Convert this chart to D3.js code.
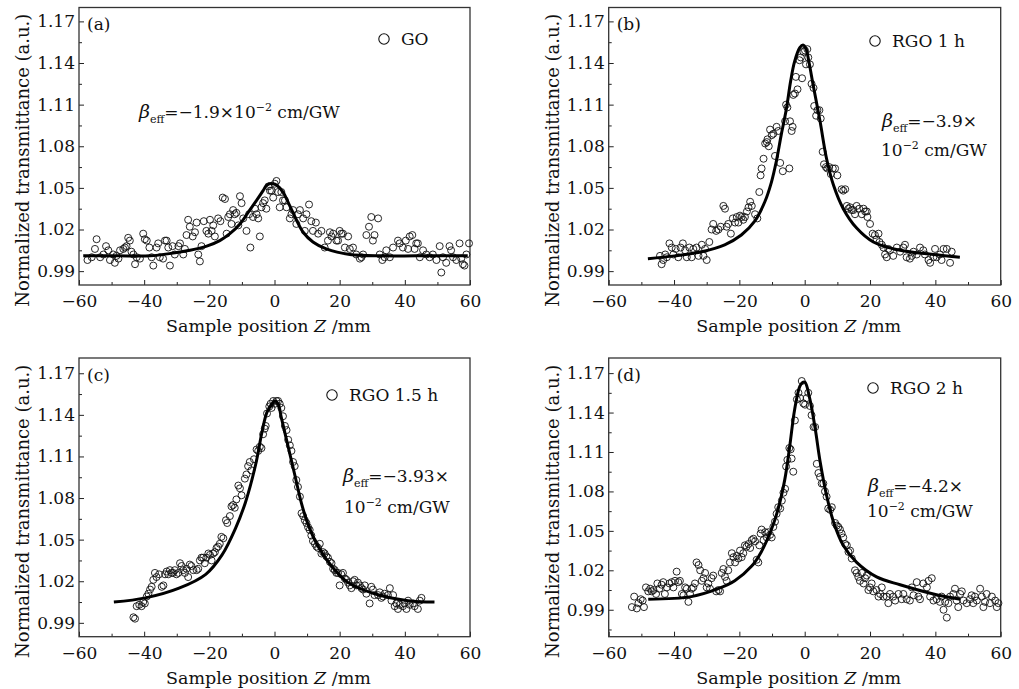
<!DOCTYPE html>
<html>
<head>
<meta charset="utf-8">
<script src="https://cdn.jsdelivr.net/npm/d3@7"></script>
<style>
  body { margin: 0; background: #fff; }
  text { font-family: "DejaVu Serif", serif; fill: #111; }
</style>
</head>
<body>
<svg id="chart" width="1019" height="689"></svg>
<script>
// tick values shared by all four panels
var xTicks = [-60, -40, -20, 0, 20, 40, 60];
var yTicks = [0.99, 1.02, 1.05, 1.08, 1.11, 1.14, 1.17];

var panelTags = ["(a)", "(b)", "(c)", "(d)"];
var sampleNames = ["GO", "RGO 1 h", "RGO 1.5 h", "RGO 2 h"];
var betaValues = ["−1.9", "−3.9", "−3.93", "−4.2"];

// measured points [Z (mm), normalized transmittance]
var goPoints = [
  [-57.4,0.998],[-56.1,1.000],[-55.1,1.006],[-54.6,1.013],[-53.5,1.000],[-52.5,1.002],[-51.7,1.008],[-51.0,1.005],
  [-50.5,0.998],[-49.5,1.002],[-49.0,0.996],[-48.5,1.001],[-47.9,0.999],[-47.4,1.005],[-46.4,1.006],[-45.9,1.007],
  [-45.4,1.008],[-44.9,1.014],[-44.4,1.012],[-43.9,1.004],[-43.3,1.002],[-42.8,0.995],[-42.3,1.000],[-41.3,0.999],
  [-40.3,1.017],[-39.8,1.013],[-39.2,1.012],[-38.4,1.007],[-37.7,1.000],[-37.2,0.994],[-36.2,1.007],[-35.7,1.010],
  [-35.2,1.000],[-34.2,0.999],[-33.6,1.012],[-33.1,1.012],[-32.6,1.007],[-32.1,0.994],[-31.3,1.008],[-30.6,1.002],
  [-29.5,1.008],[-29.0,1.010],[-28.0,1.002],[-27.5,1.006],[-27.0,1.016],[-26.5,1.027],[-26.0,1.022],[-25.1,1.015],
  [-24.4,1.018],[-23.9,1.025],[-23.4,1.002],[-22.9,0.997],[-22.4,1.008],[-21.7,1.026],[-20.9,1.019],[-20.3,1.017],
  [-19.8,1.027],[-19.3,1.019],[-18.8,1.023],[-18.3,1.015],[-17.3,1.028],[-16.6,1.026],[-15.9,1.043],[-15.2,1.042],
  [-14.7,1.017],[-14.2,1.029],[-13.7,1.031],[-13.2,1.024],[-12.7,1.034],[-12.2,1.031],[-11.7,1.032],[-11.1,1.023],
  [-10.6,1.044],[-10.1,1.039],[-9.6,1.028],[-8.6,1.019],[-7.8,1.031],[-7.4,1.007],[-6.6,1.029],[-6.0,1.035],
  [-5.5,1.031],[-5.0,1.028],[-4.5,1.015],[-4.0,1.036],[-3.5,1.039],[-3.0,1.041],[-2.5,1.035],[-1.9,1.051],
  [-1.4,1.048],[-0.9,1.048],[-0.4,1.043],[0.1,1.053],[0.6,1.055],[1.1,1.047],[1.6,1.036],[2.1,1.047],
  [2.6,1.041],[3.2,1.041],[3.7,1.036],[4.7,1.028],[5.2,1.031],[5.7,1.034],[6.7,1.024],[7.2,1.031],
  [7.8,1.034],[8.8,1.028],[9.3,1.019],[9.8,1.031],[10.6,1.038],[11.3,1.026],[11.8,1.019],[12.7,1.025],
  [13.4,1.017],[14.4,1.019],[15.4,1.007],[16.4,1.012],[17.0,1.018],[17.5,1.015],[18.0,1.017],[19.0,1.012],
  [19.5,1.012],[20.0,1.019],[20.5,1.017],[21.0,1.017],[21.6,1.007],[22.6,1.015],[23.1,1.006],[24.1,1.007],
  [25.1,1.002],[26.2,0.999],[26.7,1.000],[27.2,1.002],[28.2,1.016],[29.0,1.022],[29.7,1.029],[30.2,1.012],
  [30.7,1.016],[31.8,1.028],[32.3,1.002],[33.1,0.998],[33.8,1.000],[34.3,1.005],[35.4,1.000],[36.4,1.007],
  [37.9,1.012],[38.4,1.010],[39.4,1.007],[40.3,1.012],[41.0,1.006],[41.5,1.015],[42.3,1.016],[43.0,1.006],
  [43.5,1.010],[44.0,1.010],[44.6,1.000],[45.6,1.005],[46.6,1.002],[47.6,1.000],[48.6,1.002],[49.7,0.998],
  [50.7,1.008],[51.2,0.989],[51.7,1.000],[52.7,0.996],[53.7,1.008],[54.2,1.005],[54.8,1.000],[55.8,0.998],
  [56.8,1.010],[57.3,0.999],[57.8,0.995],[58.3,0.994],[58.9,1.002],[59.7,1.010]
];

var rgo1Points = [
  [-44.3,1.001],[-43.8,0.995],[-43.3,0.998],[-42.7,1.002],[-42.2,1.000],[-41.4,1.010],[-40.7,1.007],[-40.2,1.002],
  [-39.5,1.006],[-38.7,1.000],[-38.0,1.007],[-37.3,1.010],[-36.6,1.005],[-36.1,1.000],[-35.3,1.007],[-34.6,1.000],
  [-34.1,1.006],[-33.1,1.007],[-32.5,1.001],[-31.5,1.009],[-31.0,1.001],[-30.5,1.006],[-30.0,0.998],[-29.2,1.011],
  [-28.5,1.020],[-28.0,1.024],[-27.1,1.019],[-26.4,1.020],[-25.7,1.022],[-24.9,1.037],[-24.4,1.035],[-23.9,1.022],
  [-23.4,1.024],[-22.6,1.017],[-22.0,1.028],[-21.3,1.025],[-20.8,1.029],[-20.3,1.025],[-19.8,1.030],[-19.3,1.029],
  [-18.8,1.027],[-18.3,1.029],[-17.7,1.033],[-17.2,1.036],[-16.7,1.040],[-16.2,1.037],[-15.2,1.031],[-14.5,1.028],
  [-13.9,1.047],[-13.5,1.059],[-13.2,1.064],[-12.6,1.071],[-12.1,1.082],[-11.6,1.083],[-11.4,1.085],[-11.0,1.080],
  [-10.6,1.092],[-10.1,1.088],[-9.6,1.089],[-9.1,1.073],[-8.6,1.094],[-8.1,1.091],[-7.5,1.068],[-6.7,1.062],
  [-6.0,1.098],[-5.7,1.110],[-5.3,1.108],[-4.7,1.064],[-4.5,1.098],[-4.0,1.091],[-3.7,1.094],[-3.5,1.117],
  [-3.0,1.118],[-2.7,1.130],[-2.2,1.121],[-1.6,1.142],[-1.2,1.144],[-0.8,1.129],[-0.4,1.148],[0.1,1.149],
  [0.4,1.139],[0.8,1.150],[1.1,1.144],[1.6,1.139],[2.1,1.125],[2.7,1.122],[2.9,1.109],[3.5,1.102],
  [3.9,1.106],[4.5,1.106],[4.9,1.100],[5.5,1.076],[5.9,1.067],[6.5,1.065],[6.9,1.064],[7.5,1.065],
  [8.0,1.060],[8.6,1.064],[9.3,1.064],[10.0,1.059],[11.3,1.049],[11.8,1.048],[12.4,1.049],[12.9,1.037],
  [13.4,1.035],[13.9,1.036],[14.4,1.034],[14.9,1.034],[15.4,1.031],[15.9,1.037],[16.7,1.035],[17.5,1.031],
  [18.0,1.035],[18.5,1.033],[19.0,1.033],[19.2,1.029],[20.0,1.024],[20.8,1.017],[21.5,1.016],[22.0,1.013],
  [22.6,1.017],[22.9,1.011],[23.6,1.009],[24.1,1.007],[24.6,1.002],[25.1,1.000],[25.6,1.006],[26.1,1.005],
  [27.1,1.001],[28.2,1.007],[29.2,1.004],[30.2,1.007],[30.7,1.009],[31.2,1.000],[32.2,0.999],[32.8,1.001],
  [33.3,1.004],[34.3,1.002],[35.3,1.007],[36.3,1.005],[36.8,1.002],[37.9,0.998],[38.4,0.996],[39.4,1.000],
  [39.9,1.006],[40.4,1.000],[41.4,1.002],[41.9,0.998],[42.5,1.006],[43.5,1.006],[44.5,0.996],[45.0,1.004]
];

var rgo15Points = [
  [-43.3,0.994],[-42.8,0.993],[-42.3,1.002],[-41.5,1.003],[-40.8,1.002],[-40.3,1.005],[-39.8,1.004],[-39.2,1.009],
  [-38.7,1.011],[-38.2,1.014],[-37.7,1.016],[-37.2,1.021],[-36.7,1.026],[-36.2,1.023],[-35.4,1.025],[-34.6,1.016],
  [-34.1,1.017],[-33.6,1.025],[-33.1,1.027],[-32.6,1.025],[-32.1,1.028],[-31.6,1.026],[-31.1,1.026],[-30.6,1.028],
  [-30.1,1.025],[-29.5,1.026],[-29.0,1.033],[-28.5,1.031],[-28.0,1.028],[-27.5,1.026],[-27.0,1.029],[-26.5,1.023],
  [-26.0,1.032],[-25.5,1.031],[-24.9,1.028],[-23.9,1.028],[-23.4,1.029],[-22.9,1.035],[-22.4,1.037],[-21.9,1.037],
  [-21.4,1.033],[-20.9,1.037],[-20.3,1.040],[-19.8,1.039],[-19.3,1.035],[-18.8,1.040],[-18.3,1.041],[-17.8,1.044],
  [-17.3,1.045],[-16.8,1.047],[-16.3,1.052],[-15.7,1.051],[-14.9,1.064],[-14.5,1.062],[-13.7,1.067],[-13.2,1.074],
  [-12.7,1.075],[-12.2,1.073],[-11.7,1.079],[-11.1,1.089],[-10.6,1.087],[-10.1,1.082],[-9.1,1.094],[-8.6,1.097],
  [-8.1,1.103],[-7.6,1.106],[-7.1,1.100],[-6.3,1.108],[-5.5,1.115],[-5.0,1.114],[-4.5,1.117],[-4.0,1.116],
  [-3.5,1.126],[-3.0,1.130],[-2.7,1.132],[-2.3,1.141],[-1.6,1.146],[-1.2,1.148],[-0.9,1.145],[-0.4,1.150],
  [0.1,1.148],[0.6,1.150],[1.1,1.150],[1.6,1.148],[2.1,1.145],[2.6,1.139],[3.2,1.132],[3.7,1.129],
  [4.2,1.122],[4.7,1.118],[5.2,1.114],[5.7,1.106],[6.2,1.103],[6.7,1.093],[7.2,1.088],[7.8,1.081],
  [8.3,1.069],[8.8,1.067],[9.3,1.064],[9.8,1.062],[10.3,1.059],[10.8,1.057],[11.3,1.053],[11.8,1.049],
  [12.4,1.047],[12.9,1.045],[13.4,1.044],[13.9,1.047],[14.4,1.040],[14.9,1.041],[15.4,1.040],[15.9,1.038],
  [16.4,1.037],[17.0,1.034],[17.5,1.033],[18.0,1.029],[18.5,1.028],[19.0,1.026],[19.5,1.026],[20.0,1.017],
  [20.5,1.025],[21.0,1.026],[21.6,1.022],[22.1,1.021],[22.6,1.019],[23.1,1.017],[23.6,1.015],[24.1,1.020],
  [24.6,1.021],[25.1,1.017],[25.6,1.019],[26.2,1.017],[26.7,1.015],[27.2,1.014],[27.7,1.017],[28.2,1.011],
  [29.2,1.004],[29.7,1.016],[30.2,1.014],[30.7,1.010],[31.8,1.010],[32.3,1.012],[32.8,1.008],[33.3,1.009],
  [33.8,1.011],[34.8,1.010],[35.4,1.015],[35.9,1.006],[36.4,1.010],[36.9,1.002],[37.4,1.004],[37.9,1.000],
  [38.4,1.003],[39.4,1.002],[39.9,1.004],[40.5,1.000],[41.0,1.006],[41.5,1.003],[42.5,1.004],[43.0,1.002],
  [44.0,1.000],[44.6,1.006],[45.1,1.008]
];

var rgo2Points = [
  [-52.9,0.992],[-52.2,1.000],[-51.4,0.991],[-50.9,0.995],[-50.2,0.998],[-49.6,0.997],[-49.2,0.992],[-48.6,1.007],
  [-47.9,1.004],[-47.3,1.006],[-46.8,1.004],[-46.3,1.005],[-45.5,1.002],[-45.1,1.010],[-44.5,1.006],[-43.8,1.009],
  [-43.3,1.011],[-42.8,1.002],[-42.2,1.007],[-41.4,1.010],[-40.7,1.011],[-40.2,1.007],[-39.7,1.012],[-39.2,1.019],
  [-38.7,1.011],[-38.2,1.012],[-37.6,1.002],[-37.1,1.001],[-36.6,1.007],[-36.1,1.006],[-35.6,0.996],[-35.1,1.002],
  [-34.6,1.006],[-34.1,1.007],[-33.6,1.010],[-33.1,1.026],[-32.5,1.024],[-32.0,1.020],[-31.5,1.012],[-31.0,1.014],
  [-30.5,1.018],[-30.0,1.007],[-29.5,1.010],[-29.0,1.006],[-28.5,1.014],[-28.0,1.016],[-27.1,1.004],[-26.4,1.005],
  [-25.9,1.004],[-25.4,1.018],[-24.9,1.021],[-24.4,1.015],[-23.9,1.012],[-23.4,1.020],[-22.9,1.026],[-22.3,1.033],
  [-21.8,1.030],[-21.3,1.026],[-20.8,1.031],[-20.3,1.029],[-19.8,1.035],[-19.3,1.030],[-18.8,1.033],[-18.3,1.039],
  [-17.8,1.038],[-17.2,1.040],[-16.7,1.037],[-16.2,1.043],[-15.7,1.044],[-15.2,1.042],[-14.7,1.028],[-14.2,1.026],
  [-13.9,1.039],[-13.5,1.048],[-13.2,1.051],[-12.6,1.043],[-12.1,1.049],[-11.6,1.045],[-11.1,1.049],[-10.6,1.047],
  [-10.1,1.045],[-9.6,1.053],[-9.1,1.057],[-8.6,1.063],[-8.1,1.068],[-7.5,1.067],[-7.0,1.073],[-6.5,1.079],
  [-6.0,1.082],[-5.7,1.099],[-5.3,1.104],[-4.7,1.113],[-4.3,1.112],[-4.0,1.105],[-3.5,1.095],[-3.0,1.134],
  [-2.4,1.150],[-1.9,1.155],[-1.4,1.151],[-0.9,1.164],[-0.4,1.147],[0.1,1.146],[0.6,1.151],[1.1,1.155],
  [1.6,1.145],[2.1,1.138],[2.7,1.129],[3.2,1.129],[3.7,1.101],[4.2,1.094],[4.7,1.091],[5.2,1.086],
  [5.7,1.086],[6.2,1.080],[6.7,1.076],[7.2,1.067],[7.8,1.066],[8.3,1.068],[9.3,1.056],[9.8,1.054],
  [10.3,1.053],[10.8,1.051],[11.3,1.048],[11.8,1.045],[12.4,1.040],[12.9,1.039],[13.4,1.034],[13.9,1.035],
  [14.4,1.029],[15.4,1.020],[15.9,1.018],[16.4,1.015],[16.9,1.012],[17.5,1.018],[18.0,1.010],[18.5,1.014],
  [19.0,1.016],[19.5,1.005],[20.0,1.007],[20.5,1.010],[21.0,1.004],[22.0,1.005],[22.6,1.000],[23.1,1.002],
  [23.6,1.007],[24.1,1.000],[25.1,1.000],[25.6,0.995],[26.1,1.002],[27.1,1.000],[27.7,0.997],[28.7,1.002],
  [29.7,0.998],[30.2,1.002],[31.2,0.998],[32.2,0.997],[32.8,1.007],[33.3,1.001],[34.3,1.011],[34.8,1.000],
  [35.3,0.998],[36.3,1.010],[37.4,1.007],[37.9,1.012],[38.4,1.000],[38.9,1.014],[39.4,0.997],[40.4,0.998],
  [41.4,0.996],[41.9,1.000],[42.5,0.990],[43.0,0.996],[43.5,0.984],[44.0,0.995],[44.5,1.000],[45.5,1.002],
  [46.0,1.006],[46.5,0.997],[47.0,0.992],[47.6,1.002],[48.1,1.004],[48.6,0.997],[49.6,0.995],[50.6,0.998],
  [51.1,1.001],[51.6,0.995],[52.1,1.000],[52.7,0.997],[53.7,1.006],[54.2,1.000],[54.7,0.992],[55.2,0.996],
  [55.7,1.002],[56.7,0.995],[57.3,1.000],[58.3,0.997],[58.8,0.992],[59.3,0.995]
];

// fitted curves
var goFit = [
  [-58.7,1.001],[-48.4,1.001],[-38.2,1.001],[-31.1,1.003],[-25.9,1.005],[-20.8,1.008],[-16.8,1.012],
  [-13.7,1.017],[-10.6,1.024],[-7.6,1.034],[-5.5,1.041],[-3.5,1.048],[-2.7,1.051],[-1.6,1.053],[-0.4,1.053],
  [0.6,1.052],[2.6,1.047],[4.7,1.037],[6.7,1.027],[8.8,1.018],[11.8,1.011],[15.9,1.006],[23.1,1.002],
  [33.3,1.001],[43.5,1.001],[59.3,1.001]
];
var rgo1Fit = [
  [-48.0,0.999],[-39.8,1.001],[-31.6,1.004],[-24.5,1.009],[-19.4,1.016],[-15.3,1.026],[-12.2,1.040],
  [-10.2,1.054],[-8.7,1.069],[-7.2,1.088],[-5.6,1.107],[-4.3,1.127],[-3.1,1.141],[-1.5,1.151],[-0.5,1.153],
  [0.3,1.151],[1.2,1.142],[2.6,1.124],[4.7,1.098],[6.7,1.071],[8.8,1.052],[11.8,1.035],[15.9,1.021],
  [21.0,1.011],[29.2,1.005],[39.4,1.002],[47.5,1.000]
];
var rgo15Fit = [
  [-49.3,1.005],[-39.6,1.008],[-29.3,1.015],[-21.1,1.025],[-16.1,1.039],[-12.0,1.058],[-8.9,1.077],
  [-5.8,1.104],[-3.8,1.128],[-2.3,1.142],[-0.7,1.148],[0.1,1.150],[1.1,1.148],[2.1,1.138],[4.2,1.117],
  [6.2,1.097],[8.3,1.076],[10.3,1.061],[13.4,1.045],[17.5,1.031],[22.6,1.019],[30.7,1.011],[41.0,1.006],
  [49.1,1.005]
];
var rgo2Fit = [
  [-47.9,0.998],[-34.7,1.000],[-26.5,1.006],[-21.4,1.012],[-16.3,1.023],[-13.3,1.034],[-10.2,1.051],
  [-8.2,1.066],[-6.1,1.089],[-4.6,1.114],[-3.1,1.142],[-1.5,1.160],[-0.6,1.163],[0.1,1.163],[1.6,1.150],
  [3.2,1.128],[4.7,1.103],[6.7,1.077],[8.8,1.057],[11.8,1.039],[15.9,1.026],[22.0,1.015],[29.2,1.009],
  [39.4,1.002],[47.6,0.998]
];

var svg = d3.select("#chart");

// frame, y range and text placement per panel
var panels = [
  { pts: goPoints, fit: goFit, l: 79, r: 470, t: 7.5, b: 285, yDom: [0.98, 1.18],
    legend: [384, 39], beta: [[139, 118]], oneLine: true },
  { pts: rgo1Points, fit: rgo1Fit, l: 608.7, r: 1000.7, t: 7.5, b: 285, yDom: [0.98, 1.18],
    legend: [875, 41], beta: [[882, 127], [881, 156]], oneLine: false },
  { pts: rgo15Points, fit: rgo15Fit, l: 79, r: 470, t: 358, b: 636.7, yDom: [0.98, 1.181],
    legend: [332, 395], beta: [[343, 482], [344, 513]], oneLine: false },
  { pts: rgo2Points, fit: rgo2Fit, l: 608.7, r: 1000.7, t: 358, b: 636.7, yDom: [0.9695, 1.1815],
    legend: [873, 388], beta: [[868, 492], [867, 517]], oneLine: false }
];

var minus = d => d < 0 ? "−" + Math.abs(d) : String(d);

panels.forEach((p, i) => {
  var x = d3.scaleLinear().domain([-60, 60]).range([p.l, p.r]);
  var y = d3.scaleLinear().domain(p.yDom).range([p.b, p.t]);
  var g = svg.append("g");

  // minor ticks halfway between the labelled ones
  var xMinor = xTicks.slice(1).map(v => v - 10);
  var yMinor = yTicks.map(v => v + 0.015).concat([yTicks[0] - 0.015])
    .filter(v => v > p.yDom[0] && v < p.yDom[1]);

  var xAxis = g.append("g").attr("transform", `translate(0,${p.b})`)
    .call(d3.axisBottom(x).tickValues(xTicks).tickSize(-5).tickPadding(6).tickFormat(minus));
  g.append("g").attr("transform", `translate(0,${p.b})`)
    .call(d3.axisBottom(x).tickValues(xMinor).tickSize(-3).tickFormat(""));
  g.append("g").attr("transform", `translate(${p.l},0)`)
    .call(d3.axisLeft(y).tickValues(yTicks).tickSize(-5).tickPadding(4).tickFormat(d => d.toFixed(2)));
  g.append("g").attr("transform", `translate(${p.l},0)`)
    .call(d3.axisLeft(y).tickValues(yMinor).tickSize(-3).tickFormat(""));

  g.selectAll(".domain").remove();
  g.selectAll(".tick line").attr("stroke", "#222").attr("stroke-width", 1);
  g.selectAll(".tick text")
    .attr("font-family", "DejaVu Serif, serif")
    .attr("font-size", 17)
    .attr("fill", "#111");
  xAxis.selectAll(".tick text").attr("dy", "0.95em");

  g.append("rect")
    .attr("x", p.l).attr("y", p.t)
    .attr("width", p.r - p.l).attr("height", p.b - p.t)
    .attr("fill", "none").attr("stroke", "#333").attr("stroke-width", 1.3);

  // data circles
  g.append("g").selectAll("circle")
    .data(p.pts)
    .enter()
    .append("circle")
    .attr("cx", d => x(d[0]))
    .attr("cy", d => y(d[1]))
    .attr("r", 3.5)
    .attr("fill", "none")
    .attr("stroke", "#111")
    .attr("stroke-width", 0.9);

  var line = d3.line()
    .x(d => x(d[0]))
    .y(d => y(d[1]))
    .curve(d3.curveCatmullRom.alpha(0.5));

  g.append("path")
    .datum(p.fit)
    .attr("d", line)
    .attr("fill", "none")
    .attr("stroke", "#000")
    .attr("stroke-width", 3);

  // panel tag
  g.append("text")
    .attr("x", p.l + 8).attr("y", p.t + 22.5)
    .attr("font-size", 17)
    .text(panelTags[i]);

  // legend
  g.append("circle")
    .attr("cx", p.legend[0]).attr("cy", p.legend[1])
    .attr("r", 5.2)
    .attr("fill", "none").attr("stroke", "#111").attr("stroke-width", 1.1);
  g.append("text")
    .attr("x", p.legend[0] + 17).attr("y", p.legend[1] + 6)
    .attr("font-size", 17)
    .text(sampleNames[i]);

  // beta annotation
  var t1 = g.append("text")
    .attr("x", p.beta[0][0]).attr("y", p.beta[0][1])
    .attr("font-size", 17);
  t1.append("tspan").attr("font-style", "italic").attr("font-size", 19).text("β");
  t1.append("tspan").attr("font-size", 11).attr("dy", 5).text("eff");
  t1.append("tspan").attr("dy", -5).text("=" + betaValues[i] + "×");
  var t2 = t1;
  if (!p.oneLine) {
    t2 = g.append("text")
      .attr("x", p.beta[1][0]).attr("y", p.beta[1][1])
      .attr("font-size", 17);
  }
  t2.append("tspan").text("10");
  t2.append("tspan").attr("font-size", 11).attr("dy", -7).text("−2");
  t2.append("tspan").attr("dy", 7).text(" cm/GW");

  // axis titles
  var xt = g.append("text")
    .attr("x", (p.l + p.r) / 2 - 6).attr("y", p.b + 47)
    .attr("text-anchor", "middle")
    .attr("font-size", 17.5);
  xt.append("tspan").text("Sample position ");
  xt.append("tspan").attr("font-style", "italic").text("Z");
  xt.append("tspan").text(" /mm");

  g.append("text")
    .attr("transform", `translate(${p.l - 50},${(p.t + p.b) / 2 + 14}) rotate(-90)`)
    .attr("text-anchor", "middle")
    .attr("font-size", 18)
    .text("Normalized transmittance (a.u.)");
});
</script>
</body>
</html>
